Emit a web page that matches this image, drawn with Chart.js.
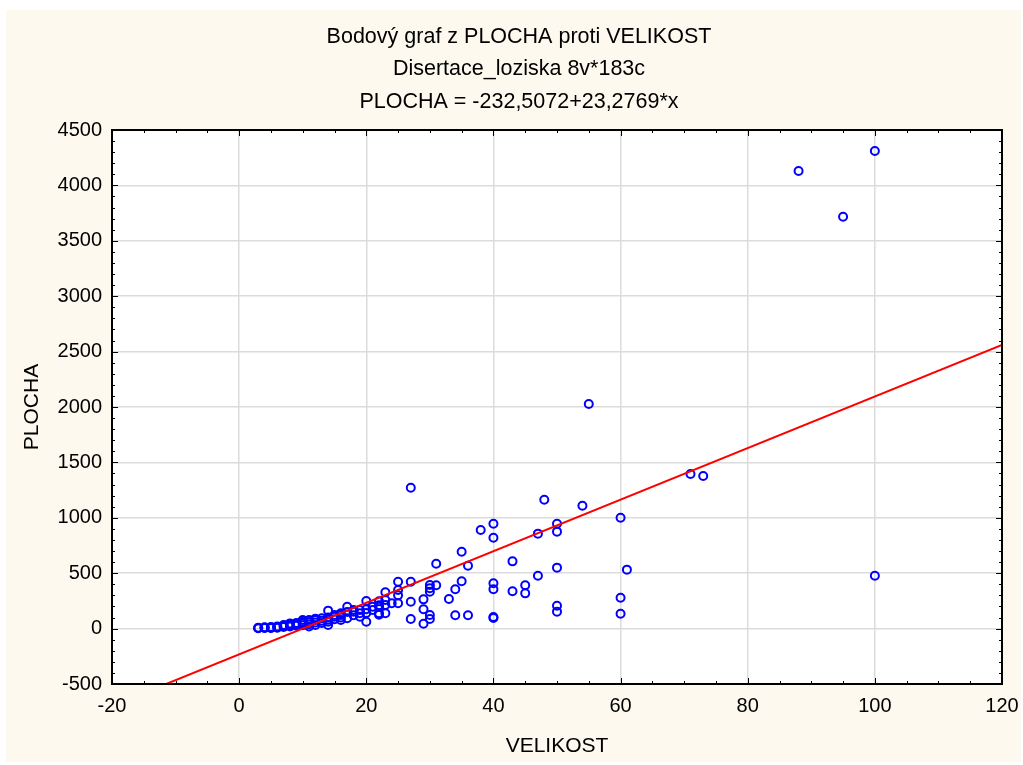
<!DOCTYPE html>
<html>
<head>
<meta charset="utf-8">
<title>Bodový graf z PLOCHA proti VELIKOST</title>
<script src="https://cdn.jsdelivr.net/npm/chart.js@4/dist/chart.umd.min.js"></script>
<style>
    body { margin: 0; background: #ffffff; }
    canvas { display: block; }
</style>
</head>
<body>
<canvas id="bodovy" width="1023" height="765"></canvas>
<script>
// VELIKOST (x) and PLOCHA (y) of each case
const velikost = [
    3, 3, 3, 4, 4, 4, 5, 5, 5, 5, 6, 6, 6, 7, 7, 7, 8, 8, 8, 8,
    9, 9, 9, 10, 10, 10, 10, 10, 11, 11, 11, 11, 12, 12, 12, 12, 13, 13, 13,
    14, 14, 14, 14, 14, 15, 15, 15, 16, 16, 16, 16, 17, 17, 17, 18, 18, 18,
    19, 19, 19, 20, 20, 20, 20, 21, 21, 22, 22, 22, 22, 22, 23, 23, 23, 23,
    24, 25, 25, 25, 25,
    27, 27, 27, 27, 29, 29, 29, 30, 30, 30, 30, 30, 31, 31, 33, 34, 34,
    35, 35, 36, 36, 38, 40, 40, 40, 40, 40, 40, 43, 43, 45, 45, 47, 47, 48,
    50, 50, 50, 50, 50, 54, 55, 60, 60, 60, 61, 71, 73, 88, 95, 100, 100
];
const plocha = [
    5, 8, 3, 8, 5, 12, 8, 15, 10, 5, 12, 20, 8, 25, 32, 15, 30, 47, 20, 38,
    40, 50, 25, 62, 45, 78, 30, 55, 78, 60, 40, 20, 78, 90, 55, 32, 93, 70, 50,
    162, 100, 80, 32, 62, 123, 107, 85, 138, 123, 78, 100, 198, 93, 150, 168, 153, 120,
    168, 138, 108, 249, 174, 140, 62, 168, 198, 198, 138, 246, 210, 125, 328, 258, 213, 138,
    228, 423, 348, 300, 228,
    1272, 423, 243, 87, 264, 174, 44, 393, 364, 333, 123, 87, 586, 391, 267, 355, 120,
    694, 427, 568, 120, 890, 947, 820, 409, 355, 105, 95, 607, 337, 391, 318, 857, 477, 1163,
    947, 875, 550, 207, 153, 1109, 2027, 1000, 279, 134, 532, 1395, 1377, 4130, 3717, 4310, 477
];

// fitted line PLOCHA = a + b*x
const regrese = [-232.5072, 23.2769];

const titulky = [
    'Bodový graf z PLOCHA proti VELIKOST',
    'Disertace_loziska 8v*183c',
    'PLOCHA = -232,5072+23,2769*x'
];

const xRange = [-20, 120];
const yRange = [-500, 4500];

const font = 'Liberation Sans, Arial, sans-serif';

let body = velikost.map((v, i) => ({ x: v, y: plocha[i] }));
let primka = xRange.map(v => ({ x: v, y: regrese[0] + regrese[1] * v }));

// cream page, white plot area, titles
let pozadi = {
    id: 'pozadi',
    beforeDraw(chart) {
        let ctx = chart.ctx;
        let a = chart.chartArea;
        ctx.save();
        ctx.fillStyle = '#ffffff';
        ctx.fillRect(0, 0, chart.width, chart.height);
        ctx.fillStyle = '#fdf9ef';
        ctx.fillRect(6, 10, chart.width - 8, chart.height - 13);
        ctx.fillStyle = '#ffffff';
        ctx.fillRect(a.left, a.top, a.right - a.left, a.bottom - a.top);

        ctx.fillStyle = '#000000';
        ctx.font = '21.5px ' + font;
        ctx.textAlign = 'center';
        ctx.textBaseline = 'middle';
        titulky.forEach((t, i) => ctx.fillText(t, 519, 37 + i * 32.5));
        ctx.restore();
    }
};

// black frame with inward major and minor ticks on all four sides
let ramecek = {
    id: 'ramecek',
    afterDraw(chart) {
        let ctx = chart.ctx;
        let a = chart.chartArea;
        let sx = chart.scales.x;
        let sy = chart.scales.y;
        ctx.save();
        ctx.strokeStyle = '#000000';
        ctx.lineWidth = 1;
        ctx.beginPath();
        for (let v = xRange[0]; v <= xRange[1]; v += 5) {
            let px = Math.round(sx.getPixelForValue(v)) + 0.5;
            let len = v % 20 === 0 ? 6 : 3;
            ctx.moveTo(px, a.bottom); ctx.lineTo(px, a.bottom - len);
            ctx.moveTo(px, a.top); ctx.lineTo(px, a.top + len);
        }
        for (let v = yRange[0]; v <= yRange[1]; v += 100) {
            let py = Math.round(sy.getPixelForValue(v)) + 0.5;
            let len = v % 500 === 0 ? 6 : 3;
            ctx.moveTo(a.left, py); ctx.lineTo(a.left + len, py);
            ctx.moveTo(a.right, py); ctx.lineTo(a.right - len, py);
        }
        ctx.stroke();
        ctx.lineWidth = 2;
        ctx.strokeRect(a.left, a.top, a.right - a.left, a.bottom - a.top);
        ctx.restore();
    }
};

let ctx = document.getElementById('bodovy').getContext('2d');
let chart = new Chart(ctx, {
    type: 'scatter',
    data: {
        datasets: [
            {
                type: 'line',
                data: primka,
                borderColor: '#ff0000',
                borderWidth: 2,
                pointRadius: 0,
                fill: false
            },
            {
                data: body,
                borderColor: '#0000ff',
                backgroundColor: 'rgba(0,0,0,0)',
                borderWidth: 2,
                pointRadius: 4,
                pointHoverRadius: 4
            }
        ]
    },
    options: {
        responsive: false,
        animation: false,
        devicePixelRatio: 1,
        layout: { padding: { top: 130, right: 21, bottom: 0, left: 0 } },
        plugins: {
            legend: { display: false },
            title: { display: false },
            tooltip: { enabled: false }
        },
        scales: {
            x: {
                type: 'linear',
                min: xRange[0],
                max: xRange[1],
                ticks: {
                    stepSize: 20, padding: 10, color: '#000000',
                    font: { family: font, size: 20 },
                    callback: v => String(v)
                },
                grid: { color: '#dcdcdc', lineWidth: 1.5, drawTicks: false },
                border: { display: false },
                title: {
                    display: true,
                    text: 'VELIKOST',
                    color: '#000000',
                    font: { family: font, size: 21 },
                    padding: { top: 0, bottom: 6 }
                },
                afterFit(scale) {
                    scale.height = 81;
                    scale.paddingLeft = 0;
                    scale.paddingRight = 0;
                }
            },
            y: {
                type: 'linear',
                min: yRange[0],
                max: yRange[1],
                ticks: {
                    stepSize: 500, padding: 10, color: '#000000',
                    font: { family: font, size: 20 },
                    callback: v => String(v)
                },
                grid: { color: '#dcdcdc', lineWidth: 1.5, drawTicks: false },
                border: { display: false },
                title: {
                    display: true,
                    text: 'PLOCHA',
                    color: '#000000',
                    font: { family: font, size: 21 },
                    padding: { top: 20, bottom: 0 }
                },
                afterFit(scale) { scale.width = 112; }
            }
        }
    },
    plugins: [pozadi, ramecek]
});
</script>
</body>
</html>
